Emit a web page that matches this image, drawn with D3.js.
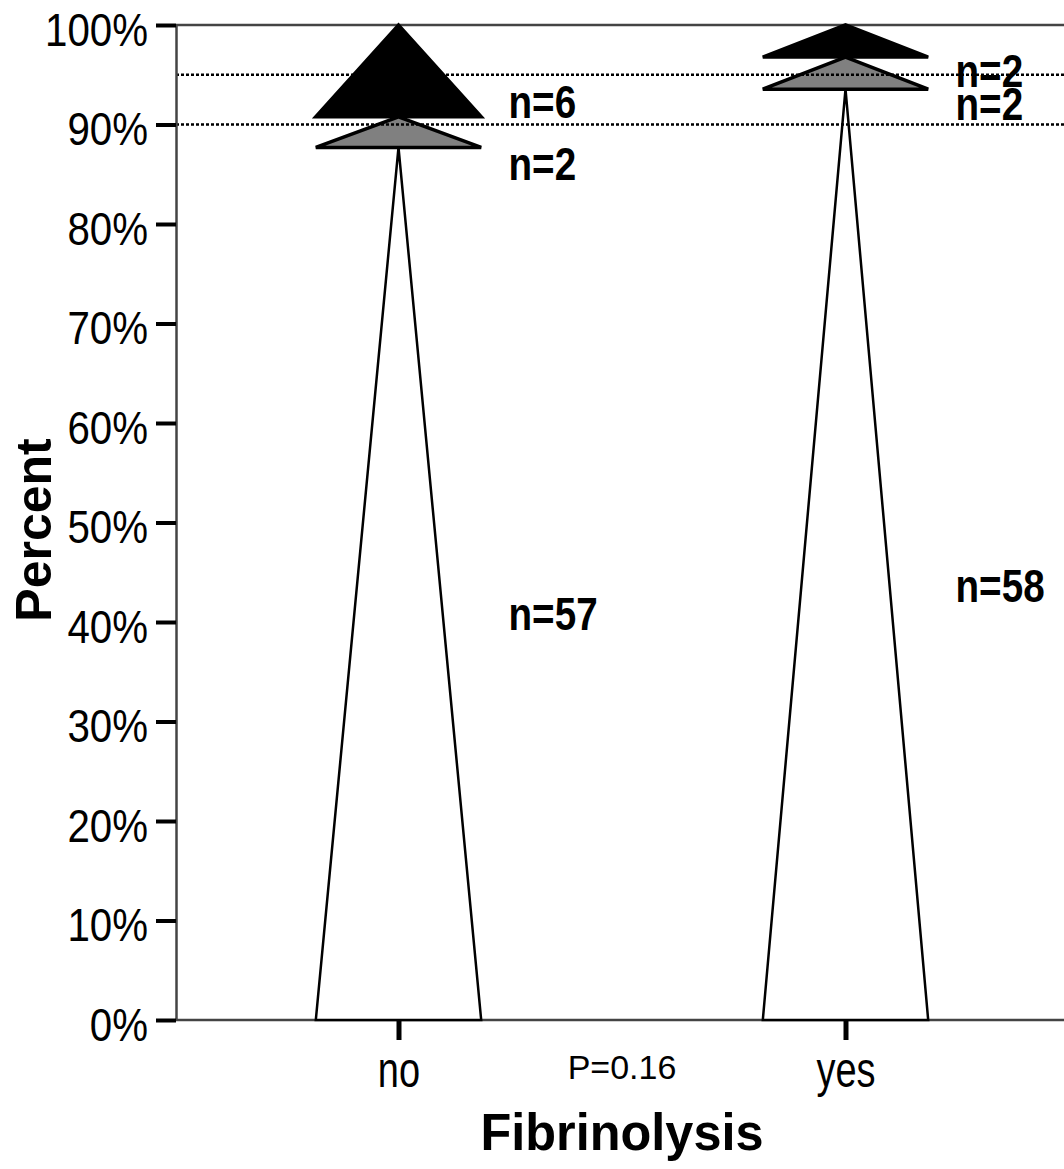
<!DOCTYPE html>
<html>
<head>
<meta charset="utf-8">
<script src="https://cdn.jsdelivr.net/npm/d3@7"></script>
<style>
  body { margin: 0; background: #fff; }
  svg { display: block; font-family: "Liberation Sans", Arial, sans-serif; }
</style>
</head>
<body>
<script>
// counts per group, stacked bottom to top: white, gray, black
var groups = ["no", "yes"];
var whiteN = [57, 58];
var grayN = [2, 2];
var blackN = [6, 2];
var refLines = [0.90, 0.95];
var yTicks = [0, 0.1, 0.2, 0.3, 0.4, 0.5, 0.6, 0.7, 0.8, 0.9, 1.0];
var pText = "P=0.16";

// where the n= labels sit (baseline, as fraction of axis)
var labelPos = [[0.392, 0.844, 0.9065], [0.42, 0.9045, 0.938]];

var width = 1064, height = 1169;
var plotLeft = 176, plotTop = 25, plotBottom = 1020;

var svg = d3.select("body").append("svg")
    .attr("width", width)
    .attr("height", height);

var x = d3.scalePoint()
    .domain(groups)
    .range([175, 1069])
    .padding(0.5);

var y = d3.scaleLinear()
    .domain([0, 1])
    .range([plotBottom, plotTop]);

var half = x.step() * 0.185;

// build segments
var segs = [];
groups.forEach(function (g, i) {
    var counts = [whiteN[i], grayN[i], blackN[i]];
    var total = d3.sum(counts);
    var cum = 0;
    counts.forEach(function (c, k) {
        segs.push({ g: g, k: k, n: c, y0: cum / total, y1: (cum + c) / total, lab: labelPos[i][k] });
        cum += c;
    });
});

var fills = ["#ffffff", "#808080", "#000000"];

// frame lines: top and bottom
svg.append("line")
    .attr("x1", plotLeft).attr("x2", width)
    .attr("y1", y(1)).attr("y2", y(1))
    .attr("stroke", "#444").attr("stroke-width", 2.5);

svg.append("line")
    .attr("x1", plotLeft).attr("x2", width)
    .attr("y1", y(0)).attr("y2", y(0))
    .attr("stroke", "#444").attr("stroke-width", 2.5);

// triangles, white first then black then gray
var order = [0, 2, 1];
order.forEach(function (k) {
    svg.selectAll(".tri" + k)
        .data(segs.filter(function (d) { return d.k === k; }))
        .enter()
        .append("path")
        .attr("class", "tri" + k)
        .attr("d", function (d) {
            var cx = x(d.g);
            return "M" + (cx - half) + "," + y(d.y0) +
                "L" + (cx + half) + "," + y(d.y0) +
                "L" + cx + "," + y(d.y1) + "Z";
        })
        .attr("fill", fills[k])
        .attr("stroke", "#000")
        .attr("stroke-width", k === 0 ? 2.5 : 3.5)
        .attr("stroke-linejoin", "miter");
});

// dotted reference lines
svg.selectAll(".ref")
    .data(refLines)
    .enter()
    .append("line")
    .attr("class", "ref")
    .attr("x1", plotLeft).attr("x2", width)
    .attr("y1", function (d) { return y(d); })
    .attr("y2", function (d) { return y(d); })
    .attr("stroke", "#000")
    .attr("stroke-width", 2.5)
    .attr("stroke-dasharray", "3,2");

// n= labels
svg.selectAll(".nlab")
    .data(segs)
    .enter()
    .append("text")
    .attr("class", "nlab")
    .attr("transform", function (d) {
        return "translate(" + (x(d.g) + 110) + "," + y(d.lab) + ") scale(0.84,1)";
    })
    .attr("font-size", 46)
    .attr("font-weight", "bold")
    .text(function (d) { return "n=" + d.n; });

// y axis
var yAxis = svg.append("g")
    .attr("transform", "translate(" + plotLeft + ",0)")
    .call(d3.axisLeft(y)
        .tickValues(yTicks)
        .tickFormat(d3.format(".0%"))
        .tickSize(20)
        .tickSizeOuter(0));

yAxis.select(".domain")
    .attr("stroke", "#444")
    .attr("stroke-width", 2.5);

yAxis.selectAll(".tick line")
    .attr("stroke", "#000")
    .attr("stroke-width", 4);

yAxis.selectAll(".tick text")
    .attr("x", 0).attr("y", 0).attr("dy", null)
    .attr("transform", "translate(-28,20) scale(0.875,1)")
    .attr("font-size", 46)
    .attr("font-family", "Liberation Sans, Arial, sans-serif")
    .attr("fill", "#000");

// x axis
var xAxis = svg.append("g")
    .attr("transform", "translate(0," + plotBottom + ")")
    .call(d3.axisBottom(x).tickSize(20).tickSizeOuter(0));

xAxis.select(".domain").remove();

xAxis.selectAll(".tick line")
    .attr("stroke", "#000")
    .attr("stroke-width", 5);

xAxis.selectAll(".tick text")
    .attr("y", 0).attr("dy", null)
    .attr("transform", "translate(0,67) scale(0.76,1)")
    .attr("font-size", 50)
    .attr("font-family", "Liberation Sans, Arial, sans-serif")
    .attr("fill", "#000");

// p value
svg.append("text")
    .attr("x", (x(groups[0]) + x(groups[1])) / 2)
    .attr("y", 1079)
    .attr("text-anchor", "middle")
    .attr("font-size", 34)
    .text(pText);

// axis titles
svg.append("text")
    .attr("transform", "translate(" + ((x(groups[0]) + x(groups[1])) / 2) + ",1150) scale(0.97,1)")
    .attr("text-anchor", "middle")
    .attr("font-size", 52)
    .attr("font-weight", "bold")
    .text("Fibrinolysis");

svg.append("text")
    .attr("transform", "translate(51,530) rotate(-90)")
    .attr("text-anchor", "middle")
    .attr("font-size", 50)
    .attr("font-weight", "bold")
    .text("Percent");
</script>
</body>
</html>
